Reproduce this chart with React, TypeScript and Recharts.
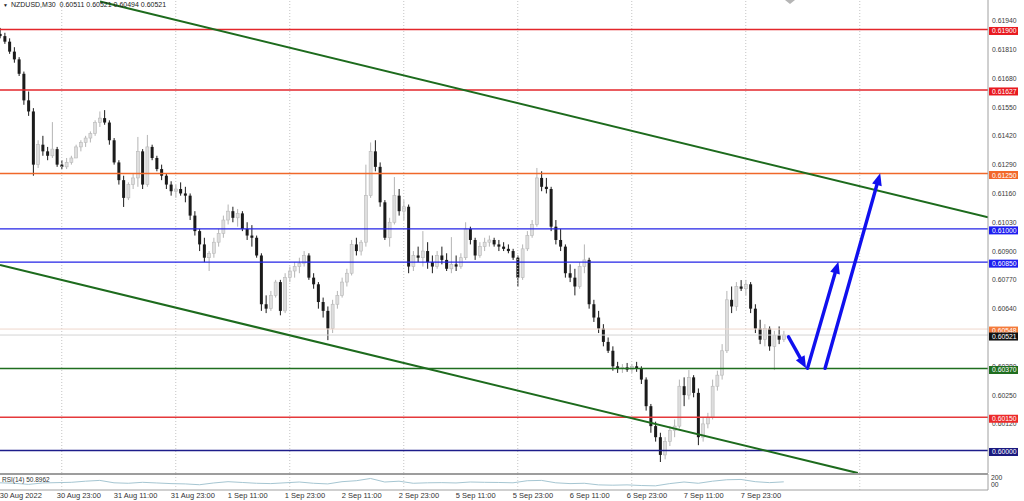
import React from 'react';
import { ComposedChart, LineChart, Bar, Line, XAxis, YAxis, ReferenceLine } from 'recharts';

// prices are stored as points above 0.60000 (1 point = 0.00001), one candle per slot
const opens = [
  1880, 1870, 1845, 1800, 1765, 1700, 1580, 1530, 1290, 1380,
  1350, 1330, 1360, 1290, 1280, 1300, 1320, 1370, 1390, 1410,
  1430, 1480, 1500, 1480, 1400, 1300, 1220, 1140, 1200, 1230,
  1350, 1200, 1370, 1320, 1270, 1240, 1200, 1170, 1180, 1160,
  1150, 1060, 990, 930, 870, 890, 940, 980, 1040, 1080,
  1050, 1070, 1000, 970, 960, 880, 660, 640, 700, 760,
  630, 780, 810, 830, 845, 880, 780, 750, 670, 630,
  550, 660, 700, 760, 800, 930, 900, 940, 1150, 1350,
  1280, 1120, 960, 1030, 1150, 1080, 1100, 830, 880, 870,
  900, 850, 830, 880, 860, 820, 840, 830, 870, 1000,
  950, 880, 920, 940, 950, 930, 920, 910, 900, 870,
  780, 910, 970, 1020, 1230, 1190, 1180, 1010, 950, 920,
  800, 780, 740, 830, 860, 660, 600, 550, 490, 450,
  380, 370, 375, 365, 380, 370, 320, 200, 110, 60,
  -20, 40, 90, 110, 290, 250, 330, 260, 60, 120,
  150, 290, 340, 450, 680, 650, 740, 730, 750, 640,
  550, 500, 550, 470, 520, 500,
];
const highs = [
  1907, 1885, 1860, 1820, 1775, 1710, 1620, 1545, 1400, 1420,
  1370, 1482, 1370, 1310, 1320, 1330, 1380, 1400, 1420, 1440,
  1490, 1530, 1536, 1490, 1410, 1310, 1240, 1210, 1250, 1415,
  1360, 1424, 1380, 1330, 1290, 1250, 1215, 1200, 1210, 1190,
  1160, 1080, 1000, 960, 900, 960, 1000, 1060, 1110, 1100,
  1090, 1080, 1030, 1017, 970, 890, 700, 720, 770, 770,
  800, 830, 850, 870, 900, 890, 800, 760, 690, 650,
  680, 720, 780, 820, 950, 960, 950, 1290, 1390, 1400,
  1300, 1130, 1050, 1234, 1180, 1130, 1110, 900, 920, 990,
  940, 880, 900, 920, 890, 963, 880, 890, 1030, 1010,
  960, 940, 960, 970, 960, 950, 940, 930, 910, 880,
  930, 990, 1040, 1275, 1260, 1230, 1190, 1040, 1000, 930,
  840, 820, 850, 930, 870, 680, 630, 570, 510, 470,
  400, 390, 395, 390, 400, 380, 330, 210, 130, 80,
  60, 110, 140, 320, 330, 363, 340, 280, 150, 170,
  320, 360, 480, 720, 740, 760, 769, 770, 760, 660,
  590, 570, 560, 540, 560, 540,
];
const lows = [
  1860, 1835, 1790, 1750, 1690, 1560, 1510, 1240, 1275, 1330,
  1310, 1320, 1280, 1270, 1270, 1290, 1320, 1350, 1370, 1390,
  1420, 1460, 1470, 1380, 1290, 1200, 1099, 1130, 1180, 1190,
  1180, 1190, 1310, 1260, 1220, 1180, 1150, 1140, 1150, 1120,
  1040, 970, 900, 850, 810, 870, 920, 960, 1020, 1030,
  1010, 990, 950, 920, 870, 630, 620, 630, 690, 610,
  620, 760, 780, 800, 830, 770, 730, 640, 600, 498,
  530, 640, 690, 740, 790, 880, 880, 920, 1140, 1260,
  1100, 950, 920, 1020, 1060, 1040, 800, 810, 850, 830,
  820, 800, 820, 840, 810, 800, 810, 820, 860, 930,
  860, 870, 900, 920, 920, 900, 900, 890, 860, 740,
  770, 900, 960, 1010, 1170, 1160, 990, 930, 900, 780,
  760, 700, 730, 800, 640, 580, 530, 470, 440, 360,
  350, 350, 355, 350, 355, 300, 180, 80, 40, -52,
  -40, 20, 60, 100, 200, 230, 240, 24, 40, 100,
  140, 270, 320, 440, 620, 630, 720, 700, 620, 530,
  480, 470, 450, 363, 480, 490,
];
const closes = [
  1870, 1845, 1800, 1765, 1700, 1580, 1530, 1290, 1380, 1350,
  1330, 1360, 1290, 1280, 1300, 1320, 1370, 1390, 1410, 1430,
  1480, 1500, 1480, 1400, 1300, 1220, 1140, 1200, 1230, 1350,
  1200, 1370, 1320, 1270, 1240, 1200, 1170, 1180, 1160, 1150,
  1060, 990, 930, 870, 890, 940, 980, 1040, 1080, 1050,
  1070, 1000, 970, 960, 880, 660, 640, 700, 760, 630,
  780, 810, 830, 845, 880, 780, 750, 670, 630, 550,
  660, 700, 760, 800, 930, 900, 940, 1150, 1350, 1280,
  1120, 960, 1030, 1150, 1080, 1100, 830, 880, 870, 900,
  850, 830, 880, 860, 820, 840, 830, 870, 1000, 950,
  880, 920, 940, 950, 930, 920, 910, 900, 870, 780,
  910, 970, 1020, 1230, 1190, 1180, 1010, 950, 920, 800,
  780, 740, 830, 860, 660, 600, 550, 490, 450, 380,
  370, 375, 365, 380, 370, 320, 200, 110, 60, -20,
  40, 90, 110, 290, 250, 330, 260, 60, 120, 150,
  290, 340, 450, 680, 650, 740, 730, 750, 640, 550,
  500, 550, 470, 520, 500, 521,
];

// RSI(14) read every third candle
const rsiSlots = [
  0, 3, 6, 9, 12, 15, 18, 21, 24, 27, 30, 33, 36, 39, 42, 45, 48, 51, 54, 57,
  60, 63, 66, 69, 72, 75, 78, 81, 84, 87, 90, 93, 96, 99, 102, 105, 108, 111, 114, 117,
  120, 123, 126, 129, 132, 135, 138, 141, 144, 147, 150, 153, 156, 159, 162, 165,
];
const rsiValues = [
  45, 42, 35, 44, 46, 48, 55, 60, 45, 42, 48, 44, 40, 38, 33, 44, 52, 47, 42, 40,
  45, 50, 42, 38, 52, 58, 72, 50, 55, 42, 45, 46, 44, 50, 48, 47, 45, 58, 60, 45,
  40, 42, 32, 30, 32, 28, 26, 40, 50, 42, 55, 64, 66, 52, 46, 51,
];
const rsiScaleTicks = [81, 37];
const rsiScaleLabels = ['200', '00'];

const timeTicks = [1, 13, 25, 37, 49, 61, 73, 85, 97, 109, 121, 133, 145, 157];
const timeLabels = [
  '30 Aug 2022', '30 Aug 23:00', '31 Aug 11:00', '31 Aug 23:00', '1 Sep 11:00', '1 Sep 23:00',
  '2 Sep 11:00', '2 Sep 23:00', '5 Sep 11:00', '5 Sep 23:00', '6 Sep 11:00', '6 Sep 23:00',
  '7 Sep 11:00', '7 Sep 23:00',
];
const daySeparators = [13, 37, 61, 85, 109, 133, 157, 181];

const priceTicks = [
  0.6194, 0.6181, 0.6168, 0.6155, 0.6142, 0.6129, 0.6116, 0.6103,
  0.609, 0.6077, 0.6064, 0.6051, 0.6038, 0.6025, 0.6012,
];
const levelPrices = [0.619, 0.61627, 0.6125, 0.61, 0.6085, 0.60548, 0.60521, 0.6037, 0.6015, 0.6];

const upperChannel = [{ x: 21.05, y: 0.62026 }, { x: 208, y: 0.61052 }];
const lowerChannel = [{ x: 0, y: 0.60837 }, { x: 180.6, y: 0.59898 }];

const arrowPaths = [
  [{ x: 166, y: 0.60513 }, { x: 169.7, y: 0.60371 }],
  [{ x: 170, y: 0.60371 }, { x: 176.5, y: 0.60852 }],
  [{ x: 173.7, y: 0.60371 }, { x: 185.3, y: 0.61251 }],
];

const levelLine = ['#e3262b', '#e3262b', '#f0682a', '#2323e6', '#2323e6', '#efd8cc', '#d4d4d4', '#1f6e1f', '#e5393b', '#1c1c8a'];
const levelBox = ['#e8191f', '#e8191f', '#f2682a', '#1c1cf0', '#1c1cf0', '#f47a3a', '#111111', '#1f6e1f', '#ec2a2a', '#1a1a80'];

const FONT = '"Liberation Sans", Arial, sans-serif';
const toPrice = (v: number) => 0.6 + v / 100000;

const candles = opens.map((o, i) => ({
  i,
  o: toPrice(o),
  h: toPrice(highs[i]),
  l: toPrice(lows[i]),
  c: toPrice(closes[i]),
  range: [toPrice(lows[i]), toPrice(highs[i])],
}));

const rsiData = rsiSlots.map((i, k) => ({ i, rsi: rsiValues[k] }));

const Candle = (props: any) => {
  const { x, y, width, height, payload } = props;
  if (x == null || y == null || !payload) return null;
  const top = Math.min(y, y + height);
  const bottom = Math.max(y, y + height);
  const span = payload.h - payload.l;
  const toY = (p: number) => (span > 0 ? top + ((payload.h - p) / span) * (bottom - top) : top);
  const up = payload.c >= payload.o;
  const cx = x + width / 2;
  const bodyTop = toY(Math.max(payload.o, payload.c));
  const bodyBottom = toY(Math.min(payload.o, payload.c));
  return (
    <g>
      <line x1={cx} x2={cx} y1={top} y2={bottom} stroke={up ? '#b4b4b4' : '#1b1b1b'} strokeWidth={1} />
      <rect
        x={x}
        y={bodyTop}
        width={width}
        height={Math.max(bodyBottom - bodyTop, 1)}
        fill={up ? '#dedede' : '#1b1b1b'}
        stroke={up ? '#b8b8b8' : 'none'}
        strokeWidth={0.6}
      />
    </g>
  );
};

const Arrow = (props: any) => {
  const { x1, y1, x2, y2 } = props;
  const a = Math.atan2(y2 - y1, x2 - x1);
  const len = 12;
  const half = 5;
  const bx = x2 - len * Math.cos(a);
  const by = y2 - len * Math.sin(a);
  const px = -Math.sin(a) * half;
  const py = Math.cos(a) * half;
  return (
    <g>
      <line x1={x1} y1={y1} x2={bx} y2={by} stroke="#1010ee" strokeWidth={3.4} strokeLinecap="round" />
      <polygon points={`${x2},${y2} ${bx + px},${by + py} ${bx - px},${by - py}`} fill="#1010ee" />
    </g>
  );
};

const PriceTick = (props: any) => {
  const { x, y, payload } = props;
  const k = levelPrices.indexOf(payload.value);
  const label = payload.value.toFixed(5);
  if (k < 0) {
    return (
      <text x={x + 4} y={y + 2.5} fontSize={6.8} fill="#3a3a3a" fontFamily={FONT}>
        {label}
      </text>
    );
  }
  return (
    <g>
      <rect x={x + 1} y={y - 2.5} width={29} height={8} fill={levelBox[k]} />
      <text x={x + 4} y={y + 4} fontSize={6.8} fill="#ffffff" fontFamily={FONT}>
        {label}
      </text>
    </g>
  );
};

const TimeTick = (props: any) => {
  const { x, y, payload } = props;
  const k = timeTicks.indexOf(payload.value);
  return (
    <text x={x - 5} y={y + 8} fontSize={7.5} fill="#333" fontFamily={FONT}>
      {timeLabels[k]}
    </text>
  );
};

const RsiTick = (props: any) => {
  const { x, y, payload } = props;
  const k = rsiScaleTicks.indexOf(payload.value);
  return (
    <text x={x + 3} y={y + 2.5} fontSize={6.8} fill="#333" fontFamily={FONT}>
      {rsiScaleLabels[k]}
    </text>
  );
};

export default function App() {
  return (
    <div style={{ position: 'absolute', left: 0, top: 0, width: 1024, height: 501, background: '#fff', overflow: 'hidden' }}>
      <ComposedChart width={1024} height={473} data={candles} margin={{ top: 0, right: 0, bottom: 0, left: 0 }}>
        <XAxis type="number" dataKey="i" domain={[0, 208]} hide allowDataOverflow />
        <YAxis
          orientation="right"
          type="number"
          domain={[0.598984, 0.62033]}
          allowDataOverflow
          ticks={[...priceTicks, ...levelPrices]}
          interval={0}
          width={36}
          tickSize={0}
          tickMargin={0}
          tickLine={false}
          axisLine={{ stroke: '#a0a0a0' }}
          tick={PriceTick}
        />
        {daySeparators.map((d) => (
          <ReferenceLine key={'d' + d} x={d} stroke="#c4c4c4" strokeDasharray="1 2" />
        ))}
        {levelPrices.map((p, k) => (
          <ReferenceLine key={'l' + p} y={p} stroke={levelLine[k]} strokeWidth={k === 5 || k === 6 ? 1 : 1.4} />
        ))}
        <ReferenceLine segment={upperChannel} stroke="#1d6b1d" strokeWidth={2} ifOverflow="hidden" />
        <ReferenceLine segment={lowerChannel} stroke="#1d6b1d" strokeWidth={2} ifOverflow="hidden" />
        <Bar dataKey="range" barSize={3} shape={Candle} isAnimationActive={false} />
        {arrowPaths.map((seg, k) => (
          <ReferenceLine key={'a' + k} segment={seg} shape={Arrow} ifOverflow="visible" />
        ))}
      </ComposedChart>
      <LineChart width={1024} height={28} data={rsiData} margin={{ top: 1, right: 0, bottom: 0, left: 0 }}>
        <XAxis
          type="number"
          dataKey="i"
          domain={[0, 208]}
          allowDataOverflow
          ticks={timeTicks}
          interval={0}
          height={11}
          tickSize={0}
          tickMargin={0}
          tickLine={false}
          axisLine={{ stroke: '#a0a0a0' }}
          tick={TimeTick}
        />
        <YAxis
          orientation="right"
          domain={[0, 100]}
          allowDataOverflow
          ticks={rsiScaleTicks}
          interval={0}
          width={36}
          tickSize={0}
          tickMargin={0}
          tickLine={false}
          axisLine={{ stroke: '#a0a0a0' }}
          tick={RsiTick}
        />
        {daySeparators.map((d) => (
          <ReferenceLine key={'r' + d} x={d} stroke="#cccccc" strokeDasharray="1 2" />
        ))}
        <ReferenceLine y={100} stroke="#7c7c7c" strokeWidth={1.6} />
        <Line type="linear" dataKey="rsi" stroke="#a6c6d2" strokeWidth={1} dot={false} isAnimationActive={false} />
      </LineChart>
      <div style={{ position: 'absolute', left: 3, top: 1, fontFamily: FONT, fontSize: 7, color: '#222', whiteSpace: 'pre' }}>
        <span style={{ fontSize: 5, marginRight: 3 }}>▼</span>
        NZDUSD,M30  0.60511 0.60521 0.60494 0.60521
      </div>
      {/* chart shift marker at the top edge */}
      <svg style={{ position: 'absolute', left: 785, top: 0 }} width={10} height={5}>
        <polygon points="0,0 10,0 5,4" fill="#b5b5b5" />
      </svg>
      <div style={{ position: 'absolute', left: 2, top: 476, fontFamily: FONT, fontSize: 6.5, color: '#333' }}>RSI(14) 50.8962</div>
    </div>
  );
}
